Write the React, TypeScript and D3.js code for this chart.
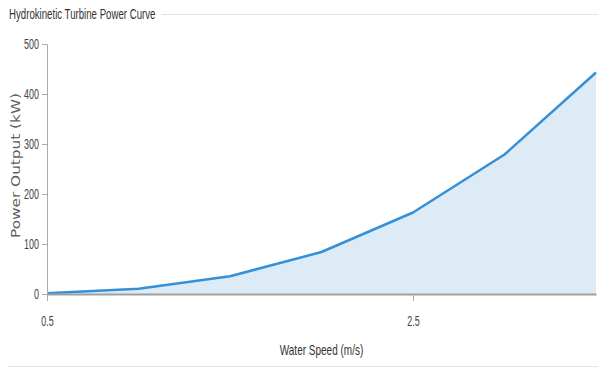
import React, { useEffect, useRef } from "react";
import * as d3 from "d3";

// Water speed (m/s) and turbine power output (kW)
const speeds = [0.5, 1.0, 1.5, 2.0, 2.5, 3.0, 3.5];
const power = [1.4, 10.5, 35.5, 84, 163, 279, 443];
const xTicks = [0.5, 2.5];
const yTicks = [0, 100, 200, 300, 400, 500];

const W = 598;
const H = 370;
const margin = { left: 47, right: 2, top: 44, bottom: 76 };
const sans = "'Liberation Sans', Arial, sans-serif";
// horizontal squeeze for the condensed-looking tick labels
const SQ = 0.64;

export default function App() {
  const ref = useRef<SVGSVGElement | null>(null);

  useEffect(() => {
    const svg = d3.select(ref.current);
    svg.selectAll("*").remove();

    const x = d3.scaleLinear().domain([0.5, 3.5]).range([margin.left, W - margin.right]);
    const y = d3.scaleLinear().domain([0, 500]).range([H - margin.bottom, margin.top]);
    const data = speeds.map((s, i) => ({ s, p: power[i] }));

    const squeezed = (
      tx: number,
      ty: number,
      txt: string,
      size: number,
      sx: number,
      anchor = "start",
      fill = "#333"
    ) =>
      svg
        .append("text")
        .attr("transform", `translate(${tx},${ty}) scale(${sx},1)`)
        .attr("text-anchor", anchor)
        .attr("font-family", sans)
        .attr("font-size", size)
        .attr("fill", fill)
        .text(txt);

    // Title and rules
    const titleSq = 0.69;
    const title = squeezed(9, 19, "Hydrokinetic Turbine Power Curve", 14, titleSq);
    const tw = (title.node() as SVGTextElement).getComputedTextLength() * titleSq;
    svg
      .append("line")
      .attr("x1", 9 + tw + 6)
      .attr("x2", W)
      .attr("y1", 14.5)
      .attr("y2", 14.5)
      .attr("stroke", "#e2e2e2");
    svg
      .append("line")
      .attr("x1", 8)
      .attr("x2", W)
      .attr("y1", 366.5)
      .attr("y2", 366.5)
      .attr("stroke", "#dfe3ea");

    // Area and line
    const area = d3
      .area<{ s: number; p: number }>()
      .x((d) => x(d.s))
      .y0(y(0))
      .y1((d) => y(d.p));
    const line = d3
      .line<{ s: number; p: number }>()
      .x((d) => x(d.s))
      .y((d) => y(d.p));
    svg.append("path").datum(data).attr("d", area).attr("fill", "#ddebf7");
    svg
      .append("path")
      .datum(data)
      .attr("d", line)
      .attr("fill", "none")
      .attr("stroke", "#3590d8")
      .attr("stroke-width", 2.5)
      .attr("stroke-linejoin", "round");

    // Y axis
    const yAxis = svg
      .append("g")
      .attr("transform", `translate(${margin.left},0)`)
      .call(d3.axisLeft(y).tickValues(yTicks).tickSize(5).tickSizeOuter(5));
    yAxis.select(".domain").attr("stroke", "#aaa");
    yAxis.selectAll(".tick line").attr("stroke", "#aaa");
    yAxis
      .selectAll(".tick text")
      .attr("font-family", sans)
      .attr("font-size", 14)
      .attr("fill", "#444")
      .attr("x", -8 / SQ)
      .attr("transform", `scale(${SQ},1)`);

    // X axis
    const xAxis = svg
      .append("g")
      .attr("transform", `translate(0,${y(0)})`)
      .call(d3.axisBottom(x).tickValues(xTicks).tickSize(7).tickSizeOuter(0).tickFormat(d3.format(".1f")));
    xAxis.select(".domain").attr("stroke", "#a0a0a0").attr("stroke-width", 2);
    xAxis.selectAll(".tick line").attr("stroke", "#aaa");
    xAxis
      .selectAll(".tick text")
      .attr("font-family", sans)
      .attr("font-size", 14)
      .attr("fill", "#444")
      .attr("y", 22)
      .attr("transform", `scale(${SQ},1)`);

    // Axis titles
    squeezed((margin.left + W - margin.right) / 2, 354.5, "Water Speed (m/s)", 14, 0.715, "middle");
    svg
      .append("text")
      .attr("transform", `translate(19.5,165.5) rotate(-90)`)
      .attr("text-anchor", "middle")
      .attr("font-family", "'DejaVu Sans', Verdana, sans-serif")
      .attr("font-size", 13)
      .attr("textLength", 145)
      .attr("lengthAdjust", "spacingAndGlyphs")
      .attr("fill", "#5f5f5f")
      .text("Power Output (kW)");
  }, []);

  return (
    <svg
      ref={ref}
      width={W}
      height={H}
      style={{ position: "absolute", left: 0, top: 0, background: "#fff" }}
    />
  );
}
